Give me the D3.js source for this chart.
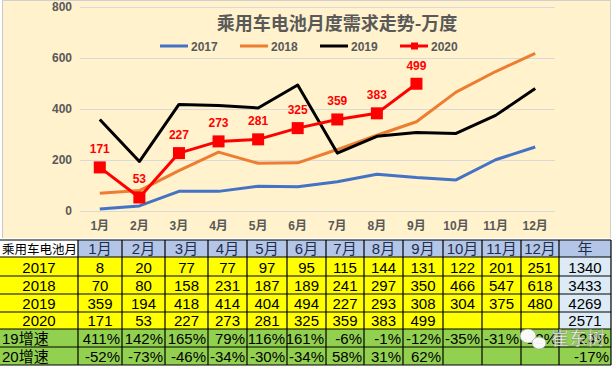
<!DOCTYPE html>
<html>
<head>
<meta charset="utf-8">
<script src="https://cdn.jsdelivr.net/npm/d3@7"></script>
<style>
  body { margin: 0; background: #fff; }
  svg { display: block; font-family: "Liberation Sans", Arial, "Noto Sans CJK SC", sans-serif; }
</style>
</head>
<body>
<div id="chart"></div>
<script>
// data
const months = ['1月','2月','3月','4月','5月','6月','7月','8月','9月','10月','11月','12月'];
const years = ['2017','2018','2019','2020'];
const v2017 = [8, 20, 77, 77, 97, 95, 115, 144, 131, 122, 201, 251];
const v2018 = [70, 80, 158, 231, 187, 189, 241, 297, 350, 466, 547, 618];
const v2019 = [359, 194, 418, 414, 404, 494, 227, 293, 308, 304, 375, 480];
const v2020 = [171, 53, 227, 273, 281, 325, 359, 383, 499];
const totals = [1340, 3433, 4269, 2571];
const g19 = ['411%','142%','165%','79%','116%','161%','-6%','-1%','-12%','-35%','-31%','-22%','24%'];
const g20 = ['-52%','-73%','-46%','-34%','-30%','-34%','58%','31%','62%','','','','-17%'];
const yTicks = [0, 200, 400, 600, 800];

const width = 614, height = 367;
const colors = { '2017': '#4472C4', '2018': '#ED7D31', '2019': '#000000', '2020': '#FF0000' };
const series = [v2017, v2018, v2019, v2020];

const svg = d3.select('#chart').append('svg')
  .attr('width', width)
  .attr('height', height);

// chart background
svg.append('rect')
  .attr('x', 2).attr('y', 0).attr('width', 609).attr('height', 238)
  .attr('fill', '#FFF2CC');
svg.append('line')
  .attr('x1', 2.5).attr('x2', 2.5).attr('y1', 0).attr('y2', 238)
  .attr('stroke', '#C8C8C8');
svg.append('line')
  .attr('x1', 2).attr('x2', 611).attr('y1', 0.5).attr('y2', 0.5)
  .attr('stroke', '#D0D0D0');
svg.append('line')
  .attr('x1', 610.5).attr('x2', 610.5).attr('y1', 0).attr('y2', 238)
  .attr('stroke', '#D0D0D0');

const x = d3.scalePoint().domain(months).range([80, 555]).padding(0.5);
const y = d3.scaleLinear().domain([0, 800]).range([211, 7]);

// grid
svg.append('g').selectAll('line')
  .data(yTicks).enter().append('line')
  .attr('x1', 80).attr('x2', 555)
  .attr('y1', d => Math.round(y(d)) + 0.5)
  .attr('y2', d => Math.round(y(d)) + 0.5)
  .attr('stroke', '#D9D9D9');

// y axis labels
svg.append('g').selectAll('text')
  .data(yTicks).enter().append('text')
  .attr('x', 72)
  .attr('y', d => y(d) + 4)
  .attr('text-anchor', 'end')
  .attr('font-size', 12).attr('font-weight', 'bold')
  .attr('fill', '#595959')
  .text(d => d);

// x axis labels
svg.append('g').selectAll('text')
  .data(months).enter().append('text')
  .attr('x', d => x(d))
  .attr('y', 230)
  .attr('text-anchor', 'middle')
  .attr('font-size', 12).attr('font-weight', 'bold')
  .attr('fill', '#595959')
  .text(d => d);

// lines
const line = d3.line()
  .x((d, i) => x(months[i]))
  .y(d => y(d));

series.forEach(function (s, k) {
  svg.append('path')
    .datum(s)
    .attr('d', line)
    .attr('fill', 'none')
    .attr('stroke', colors[years[k]])
    .attr('stroke-width', 3)
    .attr('stroke-linejoin', 'round');
});

// 2020 markers and labels
svg.append('g').selectAll('rect')
  .data(v2020).enter().append('rect')
  .attr('x', (d, i) => x(months[i]) - 6)
  .attr('y', d => y(d) - 6)
  .attr('width', 12).attr('height', 12)
  .attr('fill', '#FF0000');

svg.append('g').selectAll('text')
  .data(v2020).enter().append('text')
  .attr('x', (d, i) => x(months[i]))
  .attr('y', d => y(d) - 14)
  .attr('text-anchor', 'middle')
  .attr('font-size', 12).attr('font-weight', 'bold')
  .attr('fill', '#FF0000')
  .text(d => d);

// title
svg.append('text')
  .attr('x', 337).attr('y', 30)
  .attr('text-anchor', 'middle')
  .attr('font-size', 18).attr('font-weight', 'bold')
  .attr('fill', '#595959')
  .style('font-family', '"Noto Sans CJK SC", sans-serif')
  .text('乘用车电池月度需求走势-万度');

// legend
const legendX = [160, 240, 320, 400];
const legend = svg.append('g').selectAll('g')
  .data(years).enter().append('g')
  .attr('transform', (d, i) => 'translate(' + legendX[i] + ',46)');
legend.append('line')
  .attr('x1', 0).attr('x2', 28)
  .attr('stroke', d => colors[d])
  .attr('stroke-width', 3);
legend.filter(d => d === '2020').append('rect')
  .attr('x', 11).attr('y', -3.5).attr('width', 7).attr('height', 7)
  .attr('fill', '#FF0000');
legend.append('text')
  .attr('x', 31).attr('y', 4.5)
  .attr('font-size', 12).attr('font-weight', 'bold')
  .attr('fill', '#595959')
  .text(d => d);

// table
const colEdges = [0, 78, 122, 165, 208, 247, 287, 326, 364, 403, 443, 482, 521, 559, 611];
const rowEdges = [240, 257, 276, 294, 312, 329, 347, 365];
const table = svg.append('g').style('font-family', '"Liberation Sans", Arial, "Noto Sans CJK SC", sans-serif');

function cell(r, c, fill, txt, anchor, color) {
  const x0 = colEdges[c], x1 = colEdges[c + 1];
  const y0 = rowEdges[r], y1 = rowEdges[r + 1];
  if (fill) {
    table.append('rect')
      .attr('x', x0).attr('y', y0).attr('width', x1 - x0).attr('height', y1 - y0)
      .attr('fill', fill);
  }
  if (txt !== '' && txt != null) {
    let tx = (x0 + x1) / 2;
    if (anchor === 'end') tx = x1 - 2;
    if (anchor === 'start') tx = x0 + 2;
    table.append('text')
      .attr('x', tx).attr('y', y1 - 3.5)
      .attr('text-anchor', anchor || 'middle')
      .attr('font-size', 15)
      .attr('fill', color || '#000')
      .text(txt);
  }
}

// header
cell(0, 0, '#FFFFFF', '', 'start');
table.append('text')
  .attr('x', 2).attr('y', 254)
  .attr('font-size', 12.5)
  .style('font-family', '"Noto Sans CJK SC", sans-serif')
  .text('乘用车电池月');
months.forEach((m, i) => cell(0, i + 1, '#B4C6E7', m, 'middle', '#1F2D4D'));
cell(0, 13, '#B4C6E7', '年', 'middle', '#1F2D4D');

// value rows
series.forEach(function (s, k) {
  cell(k + 1, 0, '#FFFF00', years[k]);
  months.forEach((m, i) => cell(k + 1, i + 1, '#FFFF00', s[i] != null ? s[i] : ''));
  cell(k + 1, 13, '#DDEBF7', totals[k]);
});

// growth rows
[g19, g20].forEach(function (g, k) {
  cell(k + 5, 0, '#92D050', k === 0 ? '19增速' : '20增速', 'start');
  g.forEach((v, i) => cell(k + 5, i + 1, '#92D050', v, 'end'));
});

// borders
table.append('g').selectAll('line')
  .data(rowEdges).enter().append('line')
  .attr('x1', 0).attr('x2', 611)
  .attr('y1', d => d).attr('y2', d => d)
  .attr('stroke', '#000').attr('stroke-width', 1.2);
table.append('g').selectAll('line')
  .data(colEdges.slice(1)).enter().append('line')
  .attr('x1', d => d).attr('x2', d => d)
  .attr('y1', 240).attr('y2', 365)
  .attr('stroke', '#000').attr('stroke-width', 1.2);

// watermark (wechat logo + account name)
const wm = svg.append('g').attr('opacity', 0.95);
wm.append('ellipse').attr('cx', 528).attr('cy', 336).attr('rx', 8).attr('ry', 7)
  .attr('fill', '#fff').attr('stroke', '#999').attr('stroke-width', 0.6);
wm.append('ellipse').attr('cx', 539).attr('cy', 343).attr('rx', 7).attr('ry', 6)
  .attr('fill', '#fff').attr('stroke', '#999').attr('stroke-width', 0.6);
wm.append('text')
  .attr('x', 551).attr('y', 345)
  .attr('font-size', 18)
  .attr('fill', '#fff')
  .attr('stroke', '#777').attr('stroke-width', 0.4)
  .style('font-family', '"Noto Sans CJK SC", sans-serif')
  .text('崔东树');
</script>
</body>
</html>
